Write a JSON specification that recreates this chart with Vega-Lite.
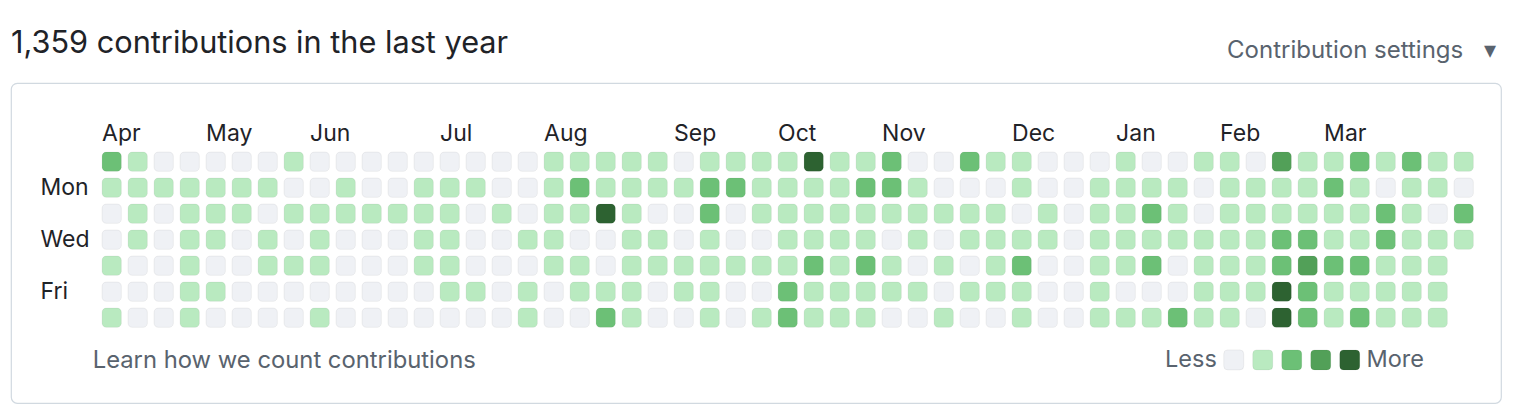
{
  "$schema": "https://vega.github.io/schema/vega-lite/v6.json",
  "width": 1490,
  "height": 320,
  "autosize": {"type": "none"},
  "padding": {"left": 11, "top": 83, "right": 21, "bottom": 7},
  "background": "white",
  "title": {
    "text": "1,359 contributions in the last year",
    "anchor": "start",
    "frame": "group",
    "font": "Inter",
    "fontSize": 30.7,
    "fontWeight": "normal",
    "color": "#1f2328",
    "baseline": "alphabetic",
    "offset": -45.5,
    "dx": 0
  },
  "config": {
    "font": "Inter",
    "view": {"stroke": "#d1d9e0", "strokeWidth": 1.2, "cornerRadius": 6}
  },
  "layer": [
    {
      "data": {"values": [
{"week":0,"day":"Sun","level":2},{"week":0,"day":"Mon","level":1},{"week":0,"day":"Tue","level":0},{"week":0,"day":"Wed","level":0},{"week":0,"day":"Thu","level":1},{"week":0,"day":"Fri","level":0},{"week":0,"day":"Sat","level":1},
{"week":1,"day":"Sun","level":1},{"week":1,"day":"Mon","level":1},{"week":1,"day":"Tue","level":1},{"week":1,"day":"Wed","level":1},{"week":1,"day":"Thu","level":0},{"week":1,"day":"Fri","level":0},{"week":1,"day":"Sat","level":0},
{"week":2,"day":"Sun","level":0},{"week":2,"day":"Mon","level":1},{"week":2,"day":"Tue","level":0},{"week":2,"day":"Wed","level":0},{"week":2,"day":"Thu","level":0},{"week":2,"day":"Fri","level":0},{"week":2,"day":"Sat","level":0},
{"week":3,"day":"Sun","level":0},{"week":3,"day":"Mon","level":1},{"week":3,"day":"Tue","level":1},{"week":3,"day":"Wed","level":1},{"week":3,"day":"Thu","level":1},{"week":3,"day":"Fri","level":1},{"week":3,"day":"Sat","level":1},
{"week":4,"day":"Sun","level":0},{"week":4,"day":"Mon","level":1},{"week":4,"day":"Tue","level":1},{"week":4,"day":"Wed","level":1},{"week":4,"day":"Thu","level":0},{"week":4,"day":"Fri","level":1},{"week":4,"day":"Sat","level":0},
{"week":5,"day":"Sun","level":0},{"week":5,"day":"Mon","level":1},{"week":5,"day":"Tue","level":1},{"week":5,"day":"Wed","level":0},{"week":5,"day":"Thu","level":0},{"week":5,"day":"Fri","level":0},{"week":5,"day":"Sat","level":0},
{"week":6,"day":"Sun","level":0},{"week":6,"day":"Mon","level":1},{"week":6,"day":"Tue","level":0},{"week":6,"day":"Wed","level":1},{"week":6,"day":"Thu","level":1},{"week":6,"day":"Fri","level":0},{"week":6,"day":"Sat","level":0},
{"week":7,"day":"Sun","level":1},{"week":7,"day":"Mon","level":0},{"week":7,"day":"Tue","level":1},{"week":7,"day":"Wed","level":0},{"week":7,"day":"Thu","level":1},{"week":7,"day":"Fri","level":0},{"week":7,"day":"Sat","level":0},
{"week":8,"day":"Sun","level":0},{"week":8,"day":"Mon","level":0},{"week":8,"day":"Tue","level":1},{"week":8,"day":"Wed","level":1},{"week":8,"day":"Thu","level":1},{"week":8,"day":"Fri","level":0},{"week":8,"day":"Sat","level":1},
{"week":9,"day":"Sun","level":0},{"week":9,"day":"Mon","level":1},{"week":9,"day":"Tue","level":1},{"week":9,"day":"Wed","level":0},{"week":9,"day":"Thu","level":0},{"week":9,"day":"Fri","level":0},{"week":9,"day":"Sat","level":0},
{"week":10,"day":"Sun","level":0},{"week":10,"day":"Mon","level":0},{"week":10,"day":"Tue","level":1},{"week":10,"day":"Wed","level":0},{"week":10,"day":"Thu","level":0},{"week":10,"day":"Fri","level":0},{"week":10,"day":"Sat","level":0},
{"week":11,"day":"Sun","level":0},{"week":11,"day":"Mon","level":0},{"week":11,"day":"Tue","level":1},{"week":11,"day":"Wed","level":0},{"week":11,"day":"Thu","level":0},{"week":11,"day":"Fri","level":0},{"week":11,"day":"Sat","level":0},
{"week":12,"day":"Sun","level":0},{"week":12,"day":"Mon","level":1},{"week":12,"day":"Tue","level":1},{"week":12,"day":"Wed","level":1},{"week":12,"day":"Thu","level":1},{"week":12,"day":"Fri","level":0},{"week":12,"day":"Sat","level":0},
{"week":13,"day":"Sun","level":0},{"week":13,"day":"Mon","level":1},{"week":13,"day":"Tue","level":1},{"week":13,"day":"Wed","level":1},{"week":13,"day":"Thu","level":1},{"week":13,"day":"Fri","level":1},{"week":13,"day":"Sat","level":0},
{"week":14,"day":"Sun","level":0},{"week":14,"day":"Mon","level":1},{"week":14,"day":"Tue","level":0},{"week":14,"day":"Wed","level":0},{"week":14,"day":"Thu","level":0},{"week":14,"day":"Fri","level":1},{"week":14,"day":"Sat","level":0},
{"week":15,"day":"Sun","level":0},{"week":15,"day":"Mon","level":0},{"week":15,"day":"Tue","level":1},{"week":15,"day":"Wed","level":0},{"week":15,"day":"Thu","level":0},{"week":15,"day":"Fri","level":0},{"week":15,"day":"Sat","level":0},
{"week":16,"day":"Sun","level":0},{"week":16,"day":"Mon","level":0},{"week":16,"day":"Tue","level":0},{"week":16,"day":"Wed","level":1},{"week":16,"day":"Thu","level":0},{"week":16,"day":"Fri","level":1},{"week":16,"day":"Sat","level":1},
{"week":17,"day":"Sun","level":1},{"week":17,"day":"Mon","level":1},{"week":17,"day":"Tue","level":1},{"week":17,"day":"Wed","level":1},{"week":17,"day":"Thu","level":1},{"week":17,"day":"Fri","level":0},{"week":17,"day":"Sat","level":0},
{"week":18,"day":"Sun","level":1},{"week":18,"day":"Mon","level":2},{"week":18,"day":"Tue","level":1},{"week":18,"day":"Wed","level":0},{"week":18,"day":"Thu","level":1},{"week":18,"day":"Fri","level":1},{"week":18,"day":"Sat","level":0},
{"week":19,"day":"Sun","level":1},{"week":19,"day":"Mon","level":1},{"week":19,"day":"Tue","level":4},{"week":19,"day":"Wed","level":0},{"week":19,"day":"Thu","level":0},{"week":19,"day":"Fri","level":1},{"week":19,"day":"Sat","level":2},
{"week":20,"day":"Sun","level":1},{"week":20,"day":"Mon","level":1},{"week":20,"day":"Tue","level":1},{"week":20,"day":"Wed","level":1},{"week":20,"day":"Thu","level":1},{"week":20,"day":"Fri","level":1},{"week":20,"day":"Sat","level":1},
{"week":21,"day":"Sun","level":1},{"week":21,"day":"Mon","level":1},{"week":21,"day":"Tue","level":0},{"week":21,"day":"Wed","level":1},{"week":21,"day":"Thu","level":1},{"week":21,"day":"Fri","level":0},{"week":21,"day":"Sat","level":0},
{"week":22,"day":"Sun","level":0},{"week":22,"day":"Mon","level":1},{"week":22,"day":"Tue","level":0},{"week":22,"day":"Wed","level":0},{"week":22,"day":"Thu","level":1},{"week":22,"day":"Fri","level":1},{"week":22,"day":"Sat","level":0},
{"week":23,"day":"Sun","level":1},{"week":23,"day":"Mon","level":2},{"week":23,"day":"Tue","level":2},{"week":23,"day":"Wed","level":1},{"week":23,"day":"Thu","level":1},{"week":23,"day":"Fri","level":1},{"week":23,"day":"Sat","level":1},
{"week":24,"day":"Sun","level":1},{"week":24,"day":"Mon","level":2},{"week":24,"day":"Tue","level":0},{"week":24,"day":"Wed","level":0},{"week":24,"day":"Thu","level":1},{"week":24,"day":"Fri","level":0},{"week":24,"day":"Sat","level":0},
{"week":25,"day":"Sun","level":1},{"week":25,"day":"Mon","level":1},{"week":25,"day":"Tue","level":1},{"week":25,"day":"Wed","level":0},{"week":25,"day":"Thu","level":1},{"week":25,"day":"Fri","level":0},{"week":25,"day":"Sat","level":1},
{"week":26,"day":"Sun","level":1},{"week":26,"day":"Mon","level":1},{"week":26,"day":"Tue","level":1},{"week":26,"day":"Wed","level":1},{"week":26,"day":"Thu","level":1},{"week":26,"day":"Fri","level":2},{"week":26,"day":"Sat","level":2},
{"week":27,"day":"Sun","level":4},{"week":27,"day":"Mon","level":1},{"week":27,"day":"Tue","level":1},{"week":27,"day":"Wed","level":1},{"week":27,"day":"Thu","level":2},{"week":27,"day":"Fri","level":1},{"week":27,"day":"Sat","level":1},
{"week":28,"day":"Sun","level":1},{"week":28,"day":"Mon","level":1},{"week":28,"day":"Tue","level":1},{"week":28,"day":"Wed","level":1},{"week":28,"day":"Thu","level":1},{"week":28,"day":"Fri","level":1},{"week":28,"day":"Sat","level":1},
{"week":29,"day":"Sun","level":1},{"week":29,"day":"Mon","level":2},{"week":29,"day":"Tue","level":1},{"week":29,"day":"Wed","level":1},{"week":29,"day":"Thu","level":2},{"week":29,"day":"Fri","level":1},{"week":29,"day":"Sat","level":1},
{"week":30,"day":"Sun","level":2},{"week":30,"day":"Mon","level":2},{"week":30,"day":"Tue","level":1},{"week":30,"day":"Wed","level":0},{"week":30,"day":"Thu","level":1},{"week":30,"day":"Fri","level":1},{"week":30,"day":"Sat","level":0},
{"week":31,"day":"Sun","level":0},{"week":31,"day":"Mon","level":1},{"week":31,"day":"Tue","level":1},{"week":31,"day":"Wed","level":1},{"week":31,"day":"Thu","level":0},{"week":31,"day":"Fri","level":1},{"week":31,"day":"Sat","level":0},
{"week":32,"day":"Sun","level":0},{"week":32,"day":"Mon","level":0},{"week":32,"day":"Tue","level":1},{"week":32,"day":"Wed","level":0},{"week":32,"day":"Thu","level":1},{"week":32,"day":"Fri","level":0},{"week":32,"day":"Sat","level":1},
{"week":33,"day":"Sun","level":2},{"week":33,"day":"Mon","level":0},{"week":33,"day":"Tue","level":1},{"week":33,"day":"Wed","level":1},{"week":33,"day":"Thu","level":0},{"week":33,"day":"Fri","level":1},{"week":33,"day":"Sat","level":0},
{"week":34,"day":"Sun","level":1},{"week":34,"day":"Mon","level":0},{"week":34,"day":"Tue","level":1},{"week":34,"day":"Wed","level":1},{"week":34,"day":"Thu","level":1},{"week":34,"day":"Fri","level":1},{"week":34,"day":"Sat","level":0},
{"week":35,"day":"Sun","level":1},{"week":35,"day":"Mon","level":1},{"week":35,"day":"Tue","level":0},{"week":35,"day":"Wed","level":1},{"week":35,"day":"Thu","level":2},{"week":35,"day":"Fri","level":1},{"week":35,"day":"Sat","level":1},
{"week":36,"day":"Sun","level":0},{"week":36,"day":"Mon","level":0},{"week":36,"day":"Tue","level":1},{"week":36,"day":"Wed","level":1},{"week":36,"day":"Thu","level":0},{"week":36,"day":"Fri","level":0},{"week":36,"day":"Sat","level":0},
{"week":37,"day":"Sun","level":0},{"week":37,"day":"Mon","level":0},{"week":37,"day":"Tue","level":0},{"week":37,"day":"Wed","level":0},{"week":37,"day":"Thu","level":0},{"week":37,"day":"Fri","level":0},{"week":37,"day":"Sat","level":0},
{"week":38,"day":"Sun","level":0},{"week":38,"day":"Mon","level":1},{"week":38,"day":"Tue","level":1},{"week":38,"day":"Wed","level":1},{"week":38,"day":"Thu","level":1},{"week":38,"day":"Fri","level":1},{"week":38,"day":"Sat","level":1},
{"week":39,"day":"Sun","level":1},{"week":39,"day":"Mon","level":1},{"week":39,"day":"Tue","level":1},{"week":39,"day":"Wed","level":1},{"week":39,"day":"Thu","level":1},{"week":39,"day":"Fri","level":0},{"week":39,"day":"Sat","level":1},
{"week":40,"day":"Sun","level":0},{"week":40,"day":"Mon","level":1},{"week":40,"day":"Tue","level":2},{"week":40,"day":"Wed","level":1},{"week":40,"day":"Thu","level":2},{"week":40,"day":"Fri","level":0},{"week":40,"day":"Sat","level":1},
{"week":41,"day":"Sun","level":0},{"week":41,"day":"Mon","level":1},{"week":41,"day":"Tue","level":1},{"week":41,"day":"Wed","level":1},{"week":41,"day":"Thu","level":0},{"week":41,"day":"Fri","level":0},{"week":41,"day":"Sat","level":2},
{"week":42,"day":"Sun","level":1},{"week":42,"day":"Mon","level":0},{"week":42,"day":"Tue","level":0},{"week":42,"day":"Wed","level":1},{"week":42,"day":"Thu","level":1},{"week":42,"day":"Fri","level":1},{"week":42,"day":"Sat","level":1},
{"week":43,"day":"Sun","level":1},{"week":43,"day":"Mon","level":1},{"week":43,"day":"Tue","level":1},{"week":43,"day":"Wed","level":1},{"week":43,"day":"Thu","level":1},{"week":43,"day":"Fri","level":1},{"week":43,"day":"Sat","level":1},
{"week":44,"day":"Sun","level":0},{"week":44,"day":"Mon","level":1},{"week":44,"day":"Tue","level":1},{"week":44,"day":"Wed","level":1},{"week":44,"day":"Thu","level":1},{"week":44,"day":"Fri","level":1},{"week":44,"day":"Sat","level":0},
{"week":45,"day":"Sun","level":3},{"week":45,"day":"Mon","level":1},{"week":45,"day":"Tue","level":1},{"week":45,"day":"Wed","level":2},{"week":45,"day":"Thu","level":2},{"week":45,"day":"Fri","level":4},{"week":45,"day":"Sat","level":4},
{"week":46,"day":"Sun","level":1},{"week":46,"day":"Mon","level":1},{"week":46,"day":"Tue","level":1},{"week":46,"day":"Wed","level":2},{"week":46,"day":"Thu","level":3},{"week":46,"day":"Fri","level":2},{"week":46,"day":"Sat","level":2},
{"week":47,"day":"Sun","level":1},{"week":47,"day":"Mon","level":2},{"week":47,"day":"Tue","level":1},{"week":47,"day":"Wed","level":1},{"week":47,"day":"Thu","level":2},{"week":47,"day":"Fri","level":1},{"week":47,"day":"Sat","level":1},
{"week":48,"day":"Sun","level":2},{"week":48,"day":"Mon","level":1},{"week":48,"day":"Tue","level":1},{"week":48,"day":"Wed","level":1},{"week":48,"day":"Thu","level":2},{"week":48,"day":"Fri","level":1},{"week":48,"day":"Sat","level":2},
{"week":49,"day":"Sun","level":1},{"week":49,"day":"Mon","level":0},{"week":49,"day":"Tue","level":2},{"week":49,"day":"Wed","level":2},{"week":49,"day":"Thu","level":1},{"week":49,"day":"Fri","level":1},{"week":49,"day":"Sat","level":1},
{"week":50,"day":"Sun","level":2},{"week":50,"day":"Mon","level":1},{"week":50,"day":"Tue","level":1},{"week":50,"day":"Wed","level":1},{"week":50,"day":"Thu","level":1},{"week":50,"day":"Fri","level":1},{"week":50,"day":"Sat","level":1},
{"week":51,"day":"Sun","level":1},{"week":51,"day":"Mon","level":1},{"week":51,"day":"Tue","level":0},{"week":51,"day":"Wed","level":1},{"week":51,"day":"Thu","level":1},{"week":51,"day":"Fri","level":1},{"week":51,"day":"Sat","level":1},
{"week":52,"day":"Sun","level":1},{"week":52,"day":"Mon","level":0},{"week":52,"day":"Tue","level":2},{"week":52,"day":"Wed","level":1}
      ]},
      "mark": {"type": "rect", "cornerRadius": 4, "stroke": "rgba(31,35,40,0.06)", "strokeWidth": 1},
      "encoding": {
        "x": {
          "field": "week", "type": "ordinal",
          "scale": {
            "domain": [0,1,2,3,4,5,6,7,8,9,10,11,12,13,14,15,16,17,18,19,20,21,22,23,24,25,26,27,28,29,30,31,32,33,34,35,36,37,38,39,40,41,42,43,44,45,46,47,48,49,50,51,52],
            "range": [91.08, 1462.32],
            "paddingInner": 0.26, "paddingOuter": 0
          },
          "axis": {
            "orient": "top", "labels": false, "ticks": false, "domain": false, "grid": false,
            "title": "Contribution settings\u00a0\u00a0\u00a0\u25BE",
            "titleX": 1484, "titleY": -26, "titleAlign": "right", "titleBaseline": "alphabetic",
            "titleFontSize": 24, "titleFontWeight": "normal", "titleColor": "#59636e", "titleFont": "Inter"
          }
        },
        "y": {
          "field": "day", "type": "ordinal",
          "scale": {
            "domain": ["M","Sun","Mon","Tue","Wed","Thu","Fri","Sat","g","L"],
            "range": [43.08, 296.32],
            "paddingInner": 0.26, "paddingOuter": 0
          },
          "axis": {
            "orient": "left", "offset": -29, "title": null, "domain": false, "ticks": false, "tickSize": 0,
            "grid": false, "labelPadding": 0, "labelAlign": "left", "labelBaseline": "middle",
            "labelFontSize": 23, "labelColor": "#1f2328", "labelFont": "Inter",
            "labelExpr": "indexof(['Mon','Wed','Fri'], datum.value) >= 0 ? datum.value : ''"
          }
        },
        "color": {
          "field": "level", "type": "ordinal",
          "scale": {"domain": [0,1,2,3,4], "range": ["#eff1f5","#b9eac0","#6cc076","#52a058","#2d6231"]},
          "legend": {
            "orient": "none", "legendX": 1154, "legendY": 265, "direction": "horizontal",
            "title": "Less", "titleOrient": "left", "titleFontSize": 23.5, "titleFontWeight": "normal",
            "titleColor": "#59636e", "titlePadding": 5, "titleFont": "Inter",
            "symbolType": "M -1 -0.6 Q -1 -1 -0.6 -1 L 0.6 -1 Q 1 -1 1 -0.6 L 1 0.6 Q 1 1 0.6 1 L -0.6 1 Q -1 1 -1 0.6 Z",
            "symbolSize": 400, "symbolStrokeColor": "rgba(31,35,40,0.06)", "symbolStrokeWidth": 1, "symbolOpacity": 1,
            "labelExpr": "datum.value == 4 ? 'More' : ''",
            "labelFontSize": 23.5, "labelColor": "#59636e", "labelFont": "Inter", "labelOffset": 5,
            "columnPadding": -3, "padding": 0
          }
        }
      }
    },
    {
      "data": {"values": [
        {"month": "Apr", "week": 0}, {"month": "May", "week": 4}, {"month": "Jun", "week": 8},
        {"month": "Jul", "week": 13}, {"month": "Aug", "week": 17}, {"month": "Sep", "week": 22},
        {"month": "Oct", "week": 26}, {"month": "Nov", "week": 30}, {"month": "Dec", "week": 35},
        {"month": "Jan", "week": 39}, {"month": "Feb", "week": 43}, {"month": "Mar", "week": 47}
      ]},
      "mark": {"type": "text", "align": "left", "baseline": "middle", "fontSize": 23, "color": "#1f2328", "font": "Inter", "dx": -9.6, "dy": -2},
      "encoding": {
        "x": {"field": "week", "type": "ordinal"},
        "y": {"datum": "M", "type": "ordinal"},
        "text": {"field": "month"}
      }
    },
    {
      "data": {"values": [{"note": "Learn how we count contributions"}]},
      "mark": {"type": "text", "align": "left", "baseline": "middle", "fontSize": 23.8, "color": "#59636e", "font": "Inter", "dx": -19, "dy": -8.5},
      "encoding": {
        "x": {"datum": 0, "type": "ordinal"},
        "y": {"datum": "L", "type": "ordinal"},
        "text": {"field": "note"}
      }
    }
  ]
}
